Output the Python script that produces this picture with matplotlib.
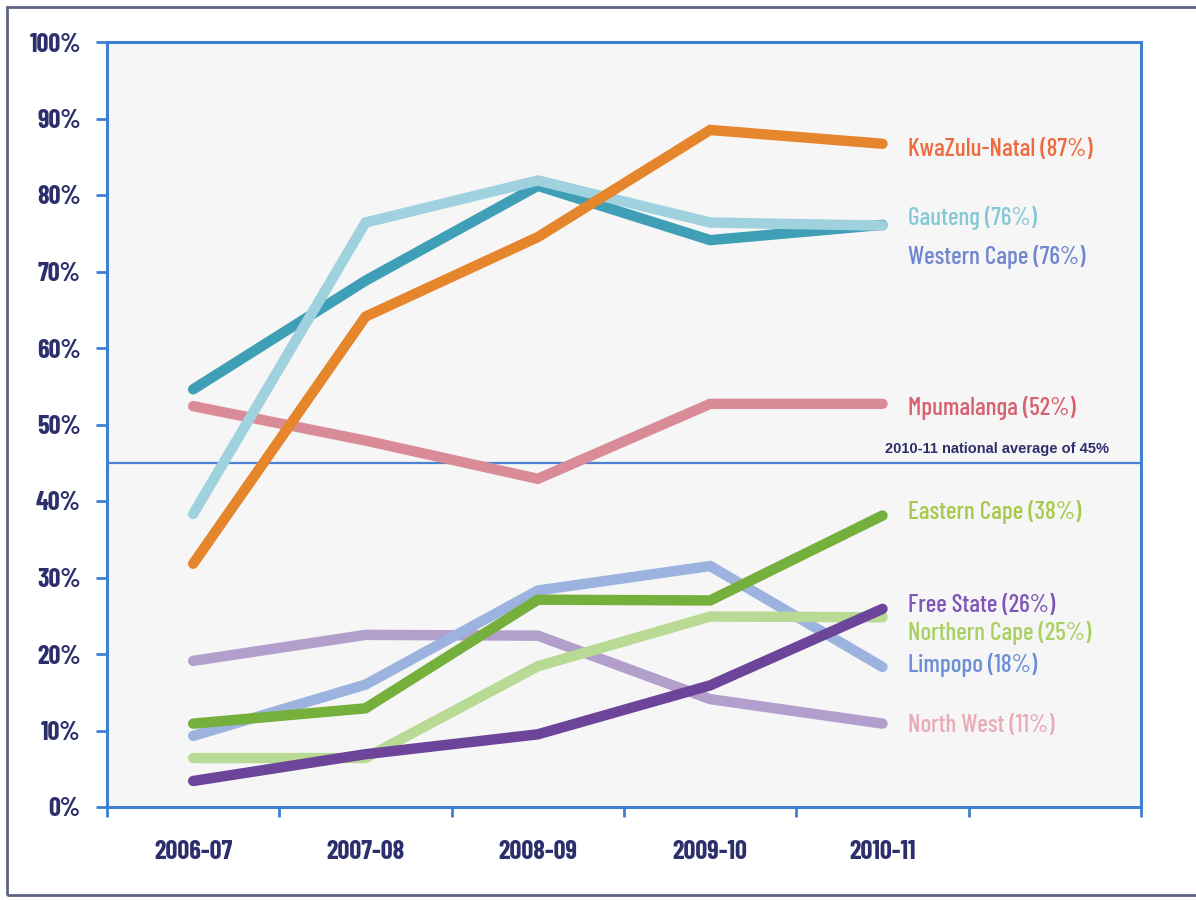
import matplotlib
matplotlib.use("Agg")
import matplotlib.pyplot as plt
from matplotlib import font_manager
from matplotlib.patches import Rectangle

# ---- data ----
years = ["2006-07", "2007-08", "2008-09", "2009-10", "2010-11"]
mpumalanga = [52.4, 47.9, 42.9, 52.7, 52.7]
western_cape = [54.6, 68.8, 81.2, 74.1, 76.1]
gauteng = [38.3, 76.4, 81.9, 76.4, 76.0]
kwazulu_natal = [31.8, 64.1, 74.5, 88.5, 86.7]
north_west = [19.1, 22.5, 22.4, 14.1, 10.9]
limpopo = [9.3, 16.0, 28.3, 31.5, 18.3]
eastern_cape = [10.9, 12.9, 27.1, 27.0, 38.1]
northern_cape = [6.4, 6.4, 18.4, 24.9, 24.8]
free_state = [3.4, 6.9, 9.5, 15.9, 25.9]
national_average = 45

label_texts = ["KwaZulu-Natal (87%)", "Gauteng (76%)", "Western Cape (76%)",
               "Mpumalanga (52%)", "Eastern Cape (38%)", "Free State (26%)",
               "Northern Cape (25%)", "Limpopo (18%)", "North West (11%)"]
label_values = [86.0, 77.0, 71.9, 52.2, 38.6, 26.3, 22.8, 18.5, 10.6]
y_ticks = [0, 10, 20, 30, 40, 50, 60, 70, 80, 90, 100]
y_tick_labels = ["0%", "10%", "20%", "30%", "40%", "50%", "60%", "70%", "80%", "90%", "100%"]

# ---- fonts ----
avail = {f.name for f in font_manager.fontManager.ttflist}
cond = "DejaVu Sans"
for cand in ["Barlow Condensed", "Fira Sans Extra Condensed", "Fira Sans Condensed",
             "Encode Sans Condensed", "Archivo Narrow"]:
    if cand in avail:
        cond = cand
        break
plain = "Liberation Sans" if "Liberation Sans" in avail else "DejaVu Sans"

navy = "#2d2f6c"
axis_blue = "#3f80d2"

fig = plt.figure(figsize=(11.96, 9.0), dpi=100)
fig.patch.set_facecolor("white")
ax = fig.add_axes([107/1196, 1-807/900, (1141-107)/1196, (807-42)/900])
ax.set_facecolor("#f6f6f6")

xs = [i + 0.5 for i in range(len(years))]

series = [
    (mpumalanga, "#d98c97"),
    (western_cape, "#3f9fb6"),
    (gauteng, "#9fd2de"),
    (kwazulu_natal, "#e6862c"),
    (north_west, "#b29fcc"),
    (limpopo, "#9db3df"),
    (eastern_cape, "#76b03c"),
    (northern_cape, "#b8da94"),
    (free_state, "#6c4499"),
]
for vals, col in series:
    ax.plot(xs, vals, color=col, lw=7.5, solid_capstyle="round",
            solid_joinstyle="miter", zorder=3)

ax.axhline(national_average, color="#4d82d0", lw=1.6, zorder=2)
ax.text(1109, 447, "2010-11 national average of 45%", transform=None,
        ha="right", va="baseline", fontsize=10.5, fontweight="bold",
        family=plain, color=navy)

label_colors = ["#ee6a3c", "#85c8d8", "#6f86d0", "#d9616f", "#a6c94c",
                "#7e57b8", "#a9d062", "#6a8fd6", "#ebaab8"]
for txt, v, col in zip(label_texts, label_values, label_colors):
    ax.text(4.65, v, txt, ha="left", va="center", fontsize=18,
            family=cond, fontweight="medium", color=col, zorder=4)

ax.set_xlim(0, 6)
ax.set_ylim(0, 100)
ax.set_xticks(range(0, 7))
ax.set_xticklabels([])
ax.set_xticks(xs, minor=True)
ax.set_xticklabels(years, minor=True)
ax.tick_params(axis="x", which="minor", length=0, pad=24)
ax.tick_params(axis="x", which="major", direction="out", length=7,
               width=2, color=axis_blue)
ax.set_yticks(y_ticks)
ax.set_yticklabels(y_tick_labels)
ax.tick_params(axis="y", direction="out", length=8, width=2,
               color=axis_blue, pad=11)
for lab in ax.get_xticklabels(minor=True) + ax.get_yticklabels():
    lab.set_family(cond)
    lab.set_fontweight("bold")
    lab.set_fontsize(19)
    lab.set_color(navy)

for s in ax.spines.values():
    s.set_color(axis_blue)
    s.set_linewidth(2.2)

fig.add_artist(Rectangle((7/1196, 5/900), 1.02, 1 - 12/900,
                         transform=fig.transFigure, fill=False,
                         edgecolor="#5d6282", lw=2))

fig.savefig("out.png", dpi=100, facecolor="white")
